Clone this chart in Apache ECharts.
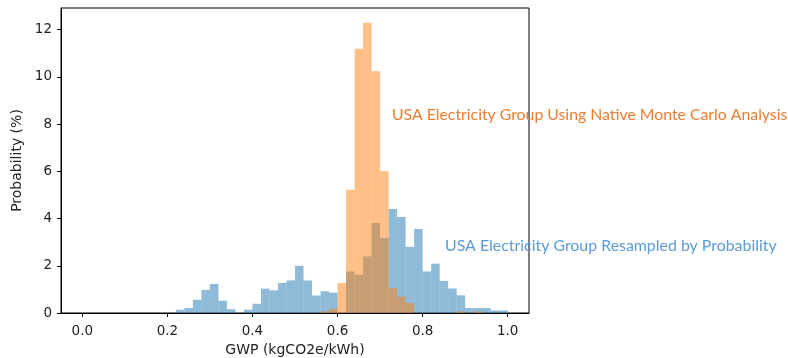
<!DOCTYPE html>
<html>
<head>
<meta charset="utf-8">
<script src="https://cdn.jsdelivr.net/npm/echarts@6/dist/echarts.min.js"></script>
<style>
html,body{margin:0;padding:0;background:#fff;}
#chart{width:788px;height:358px;}
</style>
</head>
<body>
<div id="chart"></div>
<script>
// ---- data ----
const binWidth = 0.02;
const blueStart = 0.22;
const blueValues = [0.14,0.21,0.56,0.98,1.23,0.52,0.16,0,0.14,0.39,1.03,0.96,1.27,1.38,2.0,1.38,0.74,0.92,0.86,0,1.76,1.62,2.4,3.81,3.18,4.41,4.07,2.8,3.56,1.76,2.09,1.36,1.04,0.75,0.21,0.21,0.21,0.11,0.11];
const orangeStart = 0.56;
const orangeValues = [0.07,0.18,1.27,5.22,11.19,12.29,10.24,6.0,1.06,0.7,0.42,0,0,0,0,0,0.07,0,0.07];
const xTicks = [0,0.2,0.4,0.6,0.8,1.0];
const yTicks = [0,2,4,6,8,10,12];
const xName = 'GWP (kgCO2e/kWh)';
const yName = 'Probability (%)';
const orangeLabel = 'USA Electricity Group Using Native Monte Carlo Analysis';
const blueLabel = 'USA Electricity Group Resampled by Probability';

function toBins(start, values){
  return values.map((v,i)=>[+(start+i*binWidth).toFixed(4), +(start+(i+1)*binWidth).toFixed(4), v]);
}
function makeRender(color){
  return function(params, api){
    const x0 = api.value(0), x1 = api.value(1), h = api.value(2);
    if (!h) return null;
    const p0 = api.coord([x0, h]);
    const p1 = api.coord([x1, 0]);
    return {type:'rect', shape:{x:p0[0], y:p0[1], width:p1[0]-p0[0], height:p1[1]-p0[1]},
      style:{fill:color}};
  };
}
const chart = echarts.init(document.getElementById('chart'), null, {renderer:'canvas'});
const txt = '#222';
chart.setOption({
  animation:false,
  grid:{left:61, top:8, width:468, height:305, show:true, borderColor:'#000', borderWidth:1, backgroundColor:'transparent',
    containLabel:false, outerBoundsMode:'none'},
  xAxis:{type:'value', min:-0.05, max:1.05,
    name:xName, nameLocation:'middle', nameGap:26,
    nameTextStyle:{color:txt, fontFamily:'DejaVu Sans', fontSize:14},
    axisLine:{show:true, onZero:false, lineStyle:{color:'#000', width:1}},
    axisTick:{show:true, length:4, customValues:xTicks, lineStyle:{color:'#000'}},
    axisLabel:{customValues:xTicks, formatter:v=>v.toFixed(1), color:txt, fontFamily:'DejaVu Sans', fontSize:13.5, margin:11},
    splitLine:{show:false}},
  yAxis:{type:'value', min:0, max:12.92,
    name:yName, nameLocation:'middle', nameGap:35,
    nameTextStyle:{color:txt, fontFamily:'DejaVu Sans', fontSize:14},
    axisLine:{show:true, onZero:false, lineStyle:{color:'#000', width:1}},
    axisTick:{show:true, length:4, customValues:yTicks, lineStyle:{color:'#000'}},
    axisLabel:{customValues:yTicks, color:txt, fontFamily:'DejaVu Sans', fontSize:13.5, margin:9},
    splitLine:{show:false}},
  series:[
    {type:'custom', name:'blue', renderItem:makeRender('rgba(31,119,180,0.5)'),
      encode:{x:[0,1], y:2}, data:toBins(blueStart, blueValues), clip:true},
    {type:'custom', name:'orange', renderItem:makeRender('rgba(255,127,14,0.5)'),
      encode:{x:[0,1], y:2}, data:toBins(orangeStart, orangeValues), clip:true}
  ],
  graphic:[
    {type:'text', x:392, y:115, style:{text:orangeLabel, fill:'#ED7D31', font:'15.8px Lato', verticalAlign:'middle'}},
    {type:'text', x:445, y:246, style:{text:blueLabel, fill:'#5B9BD5', font:'15.9px Lato', verticalAlign:'middle'}}
  ]
});
</script>
</body>
</html>
